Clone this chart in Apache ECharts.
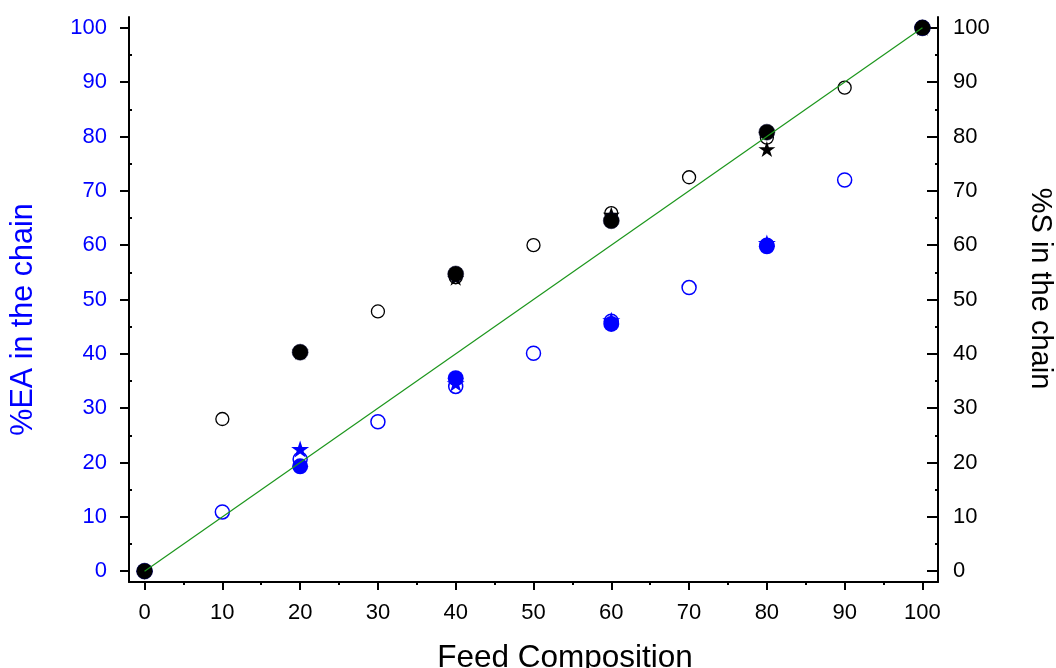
<!DOCTYPE html>
<html>
<head>
<meta charset="utf-8">
<script src="https://cdn.jsdelivr.net/npm/echarts@6/dist/echarts.min.js"></script>
<style>
  html, body { margin: 0; padding: 0; background: #fff; }
  #chart { width: 1056px; height: 668px; }
</style>
</head>
<body>
<div id="chart"></div>
<script>
// feed composition ticks
const majorTicks = [0, 10, 20, 30, 40, 50, 60, 70, 80, 90, 100]
const minorTicks = [5, 15, 25, 35, 45, 55, 65, 75, 85, 95]

// %S in the chain (black)
const sOpen = [[0, 0], [10, 28], [20, 40.2], [30, 47.8], [40, 54.1], [50, 60], [60, 65.9], [70, 72.5], [80, 79.8], [90, 89], [100, 100]]
const sFilled = [[0, 0], [20, 40.3], [40, 54.7], [60, 64.5], [80, 80.8], [100, 100]]
const sStar = [[20, 40.4], [40, 54.0], [60, 65.6], [80, 77.7], [100, 100]]

// %EA in the chain (blue)
const eaOpen = [[0, 0], [10, 10.9], [20, 20.6], [30, 27.5], [40, 34.0], [50, 40.1], [60, 46.0], [70, 52.2], [80, 60.0], [90, 72.0], [100, 100]]
const eaFilled = [[0, 0], [20, 19.3], [40, 35.5], [60, 45.5], [80, 59.8], [100, 100]]
const eaStar = [[20, 22.5], [40, 34.6], [60, 46.2], [80, 60.4]]

// ideal azeotropic line
const idealLine = [[0, 0], [100, 100]]

const FONT = '"Liberation Sans", Arial, sans-serif'
const BLUE = '#0000ff'
const STAR = 'path://M100 0 L122.45 69.1 L195.1 69.1 L136.33 111.8 L158.8 180.9 L100 138.2 L41.2 180.9 L63.67 111.8 L4.9 69.1 L77.55 69.1 Z'

const chart = echarts.init(document.getElementById('chart'))

const axisLine = { show: true, onZero: false, lineStyle: { color: '#000', width: 2 } }
const noLine = { show: false, onZero: false }

const option = {
  animation: false,
  grid: { left: 129, right: 118, top: 17, bottom: 86, containLabel: false, outerBoundsMode: 'none' },
  xAxis: [
    {
      type: 'value',
      min: -2,
      max: 102,
      position: 'bottom',
      name: 'Feed Composition',
      nameLocation: 'middle',
      nameGap: 60,
      nameTextStyle: { fontFamily: FONT, fontSize: 31.5, color: '#000', padding: [0, 0, 0, 63] },
      axisLine: axisLine,
      axisTick: { show: true, inside: false, length: 8, customValues: majorTicks, lineStyle: { width: 2, color: '#000' } },
      axisLabel: { customValues: majorTicks, fontFamily: FONT, fontSize: 22, color: '#000', margin: 20 },
      splitLine: { show: false }
    },
    {
      type: 'value',
      min: -2,
      max: 102,
      position: 'bottom',
      axisLine: noLine,
      axisTick: { show: true, inside: false, length: 3, customValues: minorTicks, lineStyle: { width: 2, color: '#000' } },
      axisLabel: { show: false },
      splitLine: { show: false }
    }
  ],
  yAxis: [
    {
      type: 'value',
      min: -2,
      max: 102,
      position: 'left',
      name: '%EA in the chain',
      nameLocation: 'middle',
      nameGap: 90,
      nameTextStyle: { fontFamily: FONT, fontSize: 30.5, color: BLUE, padding: [0, 40, 0, 0] },
      axisLine: axisLine,
      axisTick: { show: true, inside: false, length: 9, customValues: majorTicks, lineStyle: { width: 2, color: '#000' } },
      axisLabel: { customValues: majorTicks, fontFamily: FONT, fontSize: 22, color: BLUE, margin: 22 },
      splitLine: { show: false }
    },
    {
      type: 'value',
      min: -2,
      max: 102,
      position: 'right',
      name: '%S in the chain',
      nameLocation: 'middle',
      nameGap: 87,
      nameRotate: -90,
      nameTextStyle: { fontFamily: FONT, fontSize: 29, color: '#000', padding: [0, 22, 0, 0] },
      axisLine: axisLine,
      axisTick: { show: true, inside: true, length: 11, customValues: majorTicks, lineStyle: { width: 2, color: '#000' } },
      axisLabel: { customValues: majorTicks, fontFamily: FONT, fontSize: 22, color: '#000', margin: 15 },
      splitLine: { show: false }
    },
    {
      type: 'value',
      min: -2,
      max: 102,
      position: 'left',
      axisLine: noLine,
      axisTick: { show: true, inside: true, length: 3, customValues: minorTicks, lineStyle: { width: 2, color: '#000' } },
      axisLabel: { show: false },
      splitLine: { show: false }
    },
    {
      type: 'value',
      min: -2,
      max: 102,
      position: 'right',
      axisLine: noLine,
      axisTick: { show: true, inside: true, length: 3, customValues: minorTicks, lineStyle: { width: 2, color: '#000' } },
      axisLabel: { show: false },
      splitLine: { show: false }
    }
  ],
  series: [
    {
      type: 'line',
      data: idealLine,
      symbol: 'none',
      lineStyle: { color: '#1c961c', width: 1.2 }
    },
    {
      type: 'scatter', yAxisIndex: 0, data: eaOpen, symbol: 'circle', symbolSize: 14,
      itemStyle: { color: 'rgba(255,255,255,0)', borderColor: BLUE, borderWidth: 1.5, opacity: 1 }
    },
    {
      type: 'scatter', yAxisIndex: 0, data: eaStar, symbol: STAR, symbolSize: [18, 17],
      itemStyle: { color: BLUE, opacity: 1 }
    },
    {
      type: 'scatter', yAxisIndex: 0, data: eaFilled, symbol: 'circle', symbolSize: 16,
      itemStyle: { color: BLUE, opacity: 1 }
    },
    {
      type: 'scatter', yAxisIndex: 1, data: sOpen, symbol: 'circle', symbolSize: 13,
      itemStyle: { color: 'rgba(255,255,255,0)', borderColor: '#000', borderWidth: 1.3, opacity: 1 }
    },
    {
      type: 'scatter', yAxisIndex: 1, data: sStar, symbol: STAR, symbolSize: [17, 16],
      itemStyle: { color: '#000', opacity: 1 }
    },
    {
      type: 'scatter', yAxisIndex: 1, data: sFilled, symbol: 'circle', symbolSize: 16,
      itemStyle: { color: '#000', borderColor: '#000033', borderWidth: 0.5, opacity: 1 }
    }
  ]
}

chart.setOption(option)

window.addEventListener('resize', function () {
  chart.resize()
})
</script>
</body>
</html>
